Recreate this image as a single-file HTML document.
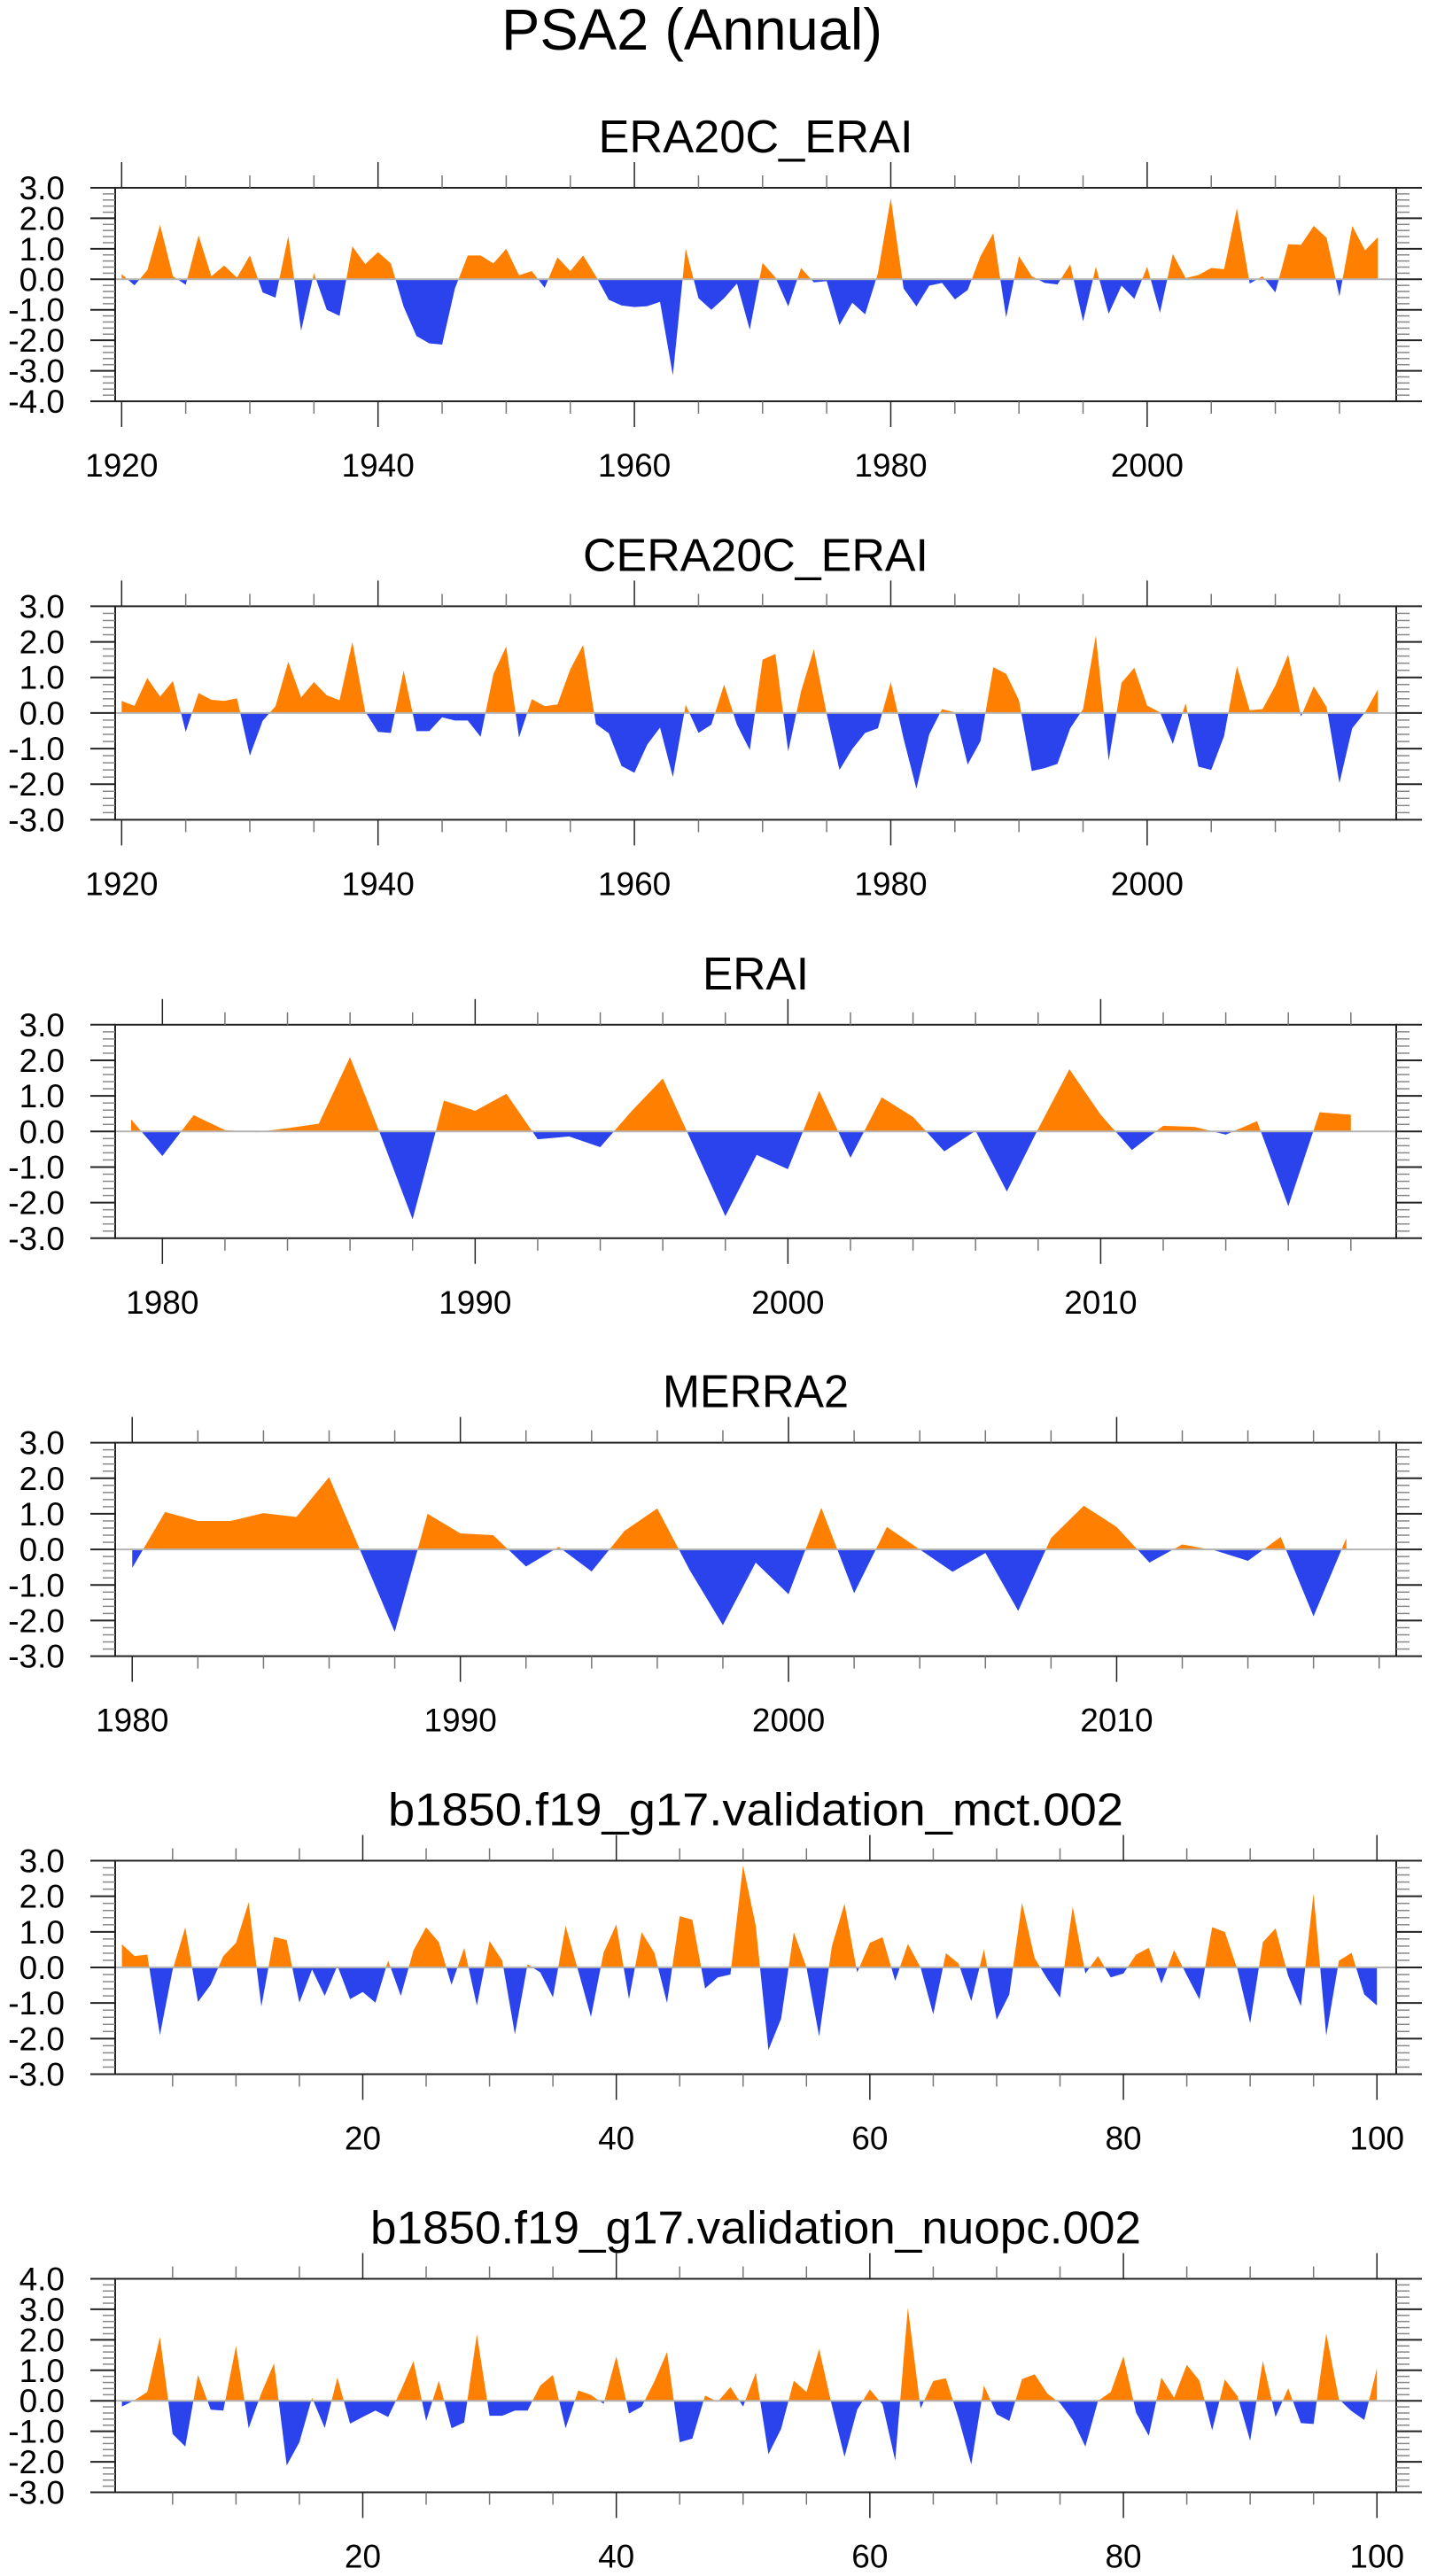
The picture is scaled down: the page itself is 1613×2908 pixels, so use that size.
<!DOCTYPE html>
<html><head><meta charset="utf-8"><title>PSA2 (Annual)</title>
<style>html,body{margin:0;padding:0;background:#fff;}svg{display:block;}</style>
</head><body>
<svg id="fig" xmlns="http://www.w3.org/2000/svg" width="1613" height="2908" viewBox="0 0 1613 2908" font-family="'Liberation Sans', sans-serif">
<rect width="1613" height="2908" fill="#fff"/>
<text x="781" y="56" font-size="66" text-anchor="middle" textLength="430" lengthAdjust="spacingAndGlyphs">PSA2 (Annual)</text>
</svg>
<script>
// ---- data ----
const era20cYears = [1920,1921,1922,1923,1924,1925,1926,1927,1928,1929,1930,1931,1932,1933,1934,1935,1936,1937,1938,1939,1940,1941,1942,1943,1944,1945,1946,1947,1948,1949,1950,1951,1952,1953,1954,1955,1956,1957,1958,1959,1960,1961,1962,1963,1964,1965,1966,1967,1968,1969,1970,1971,1972,1973,1974,1975,1976,1977,1978,1979,1980,1981,1982,1983,1984,1985,1986,1987,1988,1989,1990,1991,1992,1993,1994,1995,1996,1997,1998,1999,2000,2001,2002,2003,2004,2005,2006,2007,2008,2009,2010,2011,2012,2013,2014,2015,2016,2017,2018];
const era20cValues = [0.17,-0.2,0.3,1.78,0.1,-0.18,1.44,0.1,0.45,0.05,0.78,-0.43,-0.6,1.42,-1.69,0.2,-1.0,-1.2,1.08,0.5,0.89,0.52,-0.9,-1.86,-2.1,-2.14,-0.3,0.78,0.78,0.52,1.0,0.13,0.27,-0.28,0.72,0.27,0.78,0.1,-0.67,-0.86,-0.91,-0.88,-0.74,-3.15,1.01,-0.62,-1.0,-0.62,-0.14,-1.65,0.54,0.06,-0.89,0.37,-0.1,-0.06,-1.5,-0.77,-1.15,0.2,2.66,-0.3,-0.89,-0.21,-0.12,-0.66,-0.35,0.76,1.51,-1.25,0.76,0.1,-0.12,-0.17,0.49,-1.38,0.41,-1.13,-0.21,-0.64,0.41,-1.1,0.83,0.04,0.14,0.37,0.33,2.33,-0.14,0.1,-0.43,1.15,1.13,1.75,1.36,-0.56,1.75,0.95,1.38];
const cera20cValues = [0.34,0.2,0.98,0.46,0.9,-0.53,0.56,0.37,0.34,0.41,-1.2,-0.22,0.19,1.44,0.44,0.87,0.5,0.36,2.0,0.04,-0.53,-0.56,1.19,-0.51,-0.51,-0.12,-0.21,-0.21,-0.67,1.09,1.87,-0.69,0.39,0.19,0.24,1.23,1.91,-0.31,-0.57,-1.49,-1.68,-0.89,-0.41,-1.8,0.23,-0.56,-0.33,0.8,-0.33,-1.04,1.5,1.66,-1.08,0.61,1.79,-0.02,-1.6,-1.01,-0.56,-0.43,0.87,-0.72,-2.13,-0.6,0.11,0.02,-1.45,-0.79,1.29,1.1,0.36,-1.63,-1.55,-1.43,-0.43,0.11,2.18,-1.34,0.85,1.27,0.21,0.02,-0.87,0.27,-1.51,-1.6,-0.65,1.31,0.08,0.11,0.77,1.64,-0.1,0.75,0.17,-1.97,-0.43,0.02,0.66];
const eraiYears = [1979,1980,1981,1982,1983,1984,1985,1986,1987,1988,1989,1990,1991,1992,1993,1994,1995,1996,1997,1998,1999,2000,2001,2002,2003,2004,2005,2006,2007,2008,2009,2010,2011,2012,2013,2014,2015,2016,2017,2018];
const eraiValues = [0.34,-0.69,0.46,0.04,-0.02,0.09,0.22,2.09,-0.15,-2.47,0.87,0.58,1.06,-0.22,-0.14,-0.44,0.57,1.49,-0.44,-2.38,-0.66,-1.06,1.14,-0.74,0.96,0.41,-0.56,0.02,-1.69,0.07,1.75,0.47,-0.52,0.16,0.13,-0.09,0.29,-2.1,0.54,0.47];
const merraYears = [1980,1981,1982,1983,1984,1985,1986,1987,1988,1989,1990,1991,1992,1993,1994,1995,1996,1997,1998,1999,2000,2001,2002,2003,2004,2005,2006,2007,2008,2009,2010,2011,2012,2013,2014,2015,2016,2017];
const merraValues = [-0.52,1.05,0.8,0.8,1.02,0.91,2.03,-0.14,-2.32,1.0,0.45,0.4,-0.48,0.07,-0.62,0.52,1.15,-0.6,-2.13,-0.37,-1.26,1.17,-1.23,0.63,0.0,-0.63,-0.1,-1.73,0.32,1.23,0.63,-0.37,0.14,-0.03,-0.32,0.35,-1.88,0.32];
const mctValues = [0.65,0.32,0.36,-1.9,-0.07,1.13,-0.97,-0.49,0.32,0.69,1.83,-1.1,0.86,0.77,-0.99,-0.06,-0.8,0.05,-0.89,-0.69,-0.99,0.19,-0.8,0.48,1.13,0.71,-0.49,0.55,-1.07,0.74,0.19,-1.88,0.09,-0.14,-0.84,1.17,-0.1,-1.39,0.42,1.21,-0.89,0.99,0.41,-1.0,1.44,1.34,-0.59,-0.28,-0.2,2.87,1.17,-2.32,-1.44,0.99,0.0,-1.94,0.59,1.79,-0.14,0.69,0.85,-0.38,0.66,0.0,-1.32,0.4,0.11,-0.95,0.51,-1.47,-0.76,1.82,0.26,-0.32,-0.85,1.71,-0.17,0.32,-0.28,-0.17,0.36,0.55,-0.45,0.49,-0.22,-0.9,1.13,1.0,-0.06,-1.57,0.71,1.1,-0.24,-1.09,2.08,-1.92,0.19,0.41,-0.76,-1.07];
const nuopcValues = [-0.19,0.02,0.29,2.09,-1.09,-1.5,0.85,-0.29,-0.32,1.8,-0.9,0.25,1.23,-2.12,-1.36,0.1,-0.89,0.76,-0.75,-0.53,-0.32,-0.53,0.34,1.3,-0.66,0.66,-0.9,-0.71,2.18,-0.49,-0.49,-0.32,-0.32,0.5,0.85,-0.9,0.34,0.19,-0.1,1.46,-0.42,-0.19,0.63,1.6,-1.36,-1.24,0.17,-0.03,0.45,-0.19,0.92,-1.75,-0.92,0.66,0.29,1.7,-0.15,-1.84,-0.29,0.37,-0.12,-1.96,3.06,-0.25,0.65,0.74,-0.58,-2.09,0.5,-0.44,-0.66,0.71,0.87,0.24,-0.08,-0.63,-1.5,0.0,0.29,1.46,-0.39,-1.15,0.76,0.1,1.18,0.66,-0.97,0.7,0.15,-1.31,1.31,-0.53,0.41,-0.73,-0.76,2.21,0.05,-0.34,-0.63,1.07];
const yearTicks20 = [1920,1940,1960,1980,2000];
const yearTicks10 = [1980,1990,2000,2010];
const indexTicks = [20,40,60,80,100];
const yLabels7 = ["3.0","2.0","1.0","0.0","-1.0","-2.0","-3.0","-4.0"];

const svg = document.getElementById('fig');
const NS = 'http://www.w3.org/2000/svg';
function mk(tag, attrs, parent){const e=document.createElementNS(NS,tag);for(const k in attrs)e.setAttribute(k,attrs[k]);(parent||svg).appendChild(e);return e;}
const seq=(a,b)=>{const r=[];for(let i=a;i<=b;i++)r.push(i);return r;};

const L=130,R=1576,H=241;
const panels=[
 {key:'era20c',title:'ERA20C_ERAI',tw:355,top:212,x:era20cYears,y:era20cValues,xmin:1919.495,xmax:2019.43,ymin:-4,ymax:3,major:yearTicks20,minorStep:5,minorStart:1920},
 {key:'cera20c',title:'CERA20C_ERAI',tw:390,top:684.4,x:era20cYears,y:cera20cValues,xmin:1919.495,xmax:2019.43,ymin:-3,ymax:3,major:yearTicks20,minorStep:5,minorStart:1920},
 {key:'erai',title:'ERAI',tw:120,top:1156.8,x:eraiYears,y:eraiValues,xmin:1978.49,xmax:2019.45,ymin:-3,ymax:3,major:yearTicks10,minorStep:2,minorStart:1980},
 {key:'merra2',title:'MERRA2',tw:210,top:1628.6,x:merraYears,y:merraValues,xmin:1979.48,xmax:2018.52,ymin:-3,ymax:3,major:yearTicks10,minorStep:2,minorStart:1980},
 {key:'mct',title:'b1850.f19_g17.validation_mct.002',tw:830,top:2100.5,x:seq(1,100),y:mctValues,xmin:0.469,xmax:101.52,ymin:-3,ymax:3,major:indexTicks,minorStep:5,minorStart:5},
 {key:'nuopc',title:'b1850.f19_g17.validation_nuopc.002',tw:870,top:2572.5,x:seq(1,100),y:nuopcValues,xmin:0.469,xmax:101.52,ymin:-3,ymax:4,major:indexTicks,minorStep:5,minorStart:5}
];

panels.forEach((p,pi)=>{
  const g=mk('g',{});
  
  
  const T=p.top,B=p.top+H;
  const sx=v=>L+(v-p.xmin)/(p.xmax-p.xmin)*(R-L);
  const sy=v=>B-(v-p.ymin)/(p.ymax-p.ymin)*H;
  const z=sy(0);
  const t=mk('text',{x:853,y:T-40,'font-size':52,'text-anchor':'middle',textLength:p.tw,lengthAdjust:'spacingAndGlyphs'},g);
  t.textContent=p.title;
  
  
  // clip paths
  const cu=mk('clipPath',{id:'cu'+pi},g); mk('rect',{x:L,y:T,width:R-L,height:z-T},cu);
  const cd=mk('clipPath',{id:'cd'+pi},g); mk('rect',{x:L,y:z,width:R-L,height:B-z},cd);
  let pts=sx(p.x[0]).toFixed(2)+','+z.toFixed(2)+' ';
  p.x.forEach((xv,i)=>{pts+=sx(xv).toFixed(2)+','+sy(p.y[i]).toFixed(2)+' ';});
  pts+=sx(p.x[p.x.length-1]).toFixed(2)+','+z.toFixed(2);
  const up=mk('polygon',{points:pts,fill:'#ff8000','clip-path':'url(#cu'+pi+')'},g);
  
  
  const dn=mk('polygon',{points:pts,fill:'#2a43ec','clip-path':'url(#cd'+pi+')'},g);
  
  
  const zl=mk('line',{x1:L,x2:R,y1:z,y2:z,stroke:'#b4b4b4','stroke-width':2},g);
  
  
  // frame
  const fr=mk('rect',{x:L,y:T,width:R-L,height:H,fill:'none',stroke:'#222','stroke-width':2},g);
  
  
  // y ticks
  const ya=mk('g',{},g);
  
  
  for(let v=p.ymin;v<=p.ymax+1e-6;v+=1){
    const y=sy(v);
    mk('line',{x1:102,x2:L,y1:y,y2:y,stroke:'#222','stroke-width':2},ya);
    mk('line',{x1:R,x2:1605,y1:y,y2:y,stroke:'#222','stroke-width':2},ya);
    const lb=mk('text',{x:73,y:y+13,'font-size':37,'text-anchor':'end'},ya);
    lb.textContent=v.toFixed(1);
    
    
    if(v<p.ymax){for(let k=1;k<5;k++){const yy=sy(v+k*0.2);
      mk('line',{x1:116,x2:L,y1:yy,y2:yy,stroke:'#888','stroke-width':1.5},ya);
      mk('line',{x1:R,x2:1591,y1:yy,y2:yy,stroke:'#888','stroke-width':1.5},ya);}}
  }
  // x ticks
  const xa=mk('g',{},g);
  
  
  for(let v=p.minorStart;v<=p.xmax;v+=p.minorStep){
    if(v<p.xmin)continue;
    const x=sx(v);
    const isMaj=p.major.indexOf(v)>=0;
    const len=isMaj?29:14;
    mk('line',{x1:x,x2:x,y1:T-len,y2:T,stroke:isMaj?'#222':'#777','stroke-width':1.5},xa);
    mk('line',{x1:x,x2:x,y1:B,y2:B+len,stroke:isMaj?'#222':'#777','stroke-width':1.5},xa);
  }
  p.major.forEach(v=>{
    const lb=mk('text',{x:sx(v),y:B+85,'font-size':37,'text-anchor':'middle'},xa);
    lb.textContent=String(v);
    
    
  });
});
</script>
</body></html>
